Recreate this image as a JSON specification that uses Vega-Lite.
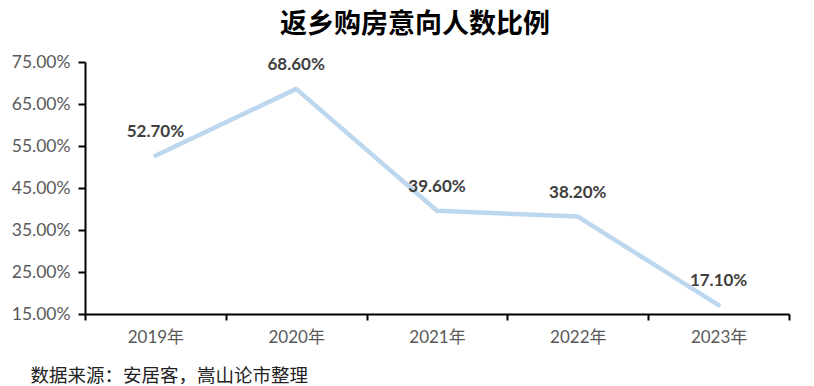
{
  "$schema": "https://vega.github.io/schema/vega-lite/v6.json",
  "width": 704,
  "height": 252,
  "autosize": "none",
  "padding": {"left": 85, "top": 62, "right": 25, "bottom": 72},
  "background": "white",
  "title": {
    "text": "返乡购房意向人数比例",
    "font": "Noto Sans CJK SC",
    "fontSize": 27,
    "fontWeight": "bold",
    "color": "#000000",
    "anchor": "middle",
    "dx": -22,
    "offset": 14
  },
  "config": {"view": {"stroke": null}},
  "data": {
    "values": [
      {"year": "2019年", "value": 0.527},
      {"year": "2020年", "value": 0.686},
      {"year": "2021年", "value": 0.396},
      {"year": "2022年", "value": 0.382},
      {"year": "2023年", "value": 0.171}
    ]
  },
  "encoding": {
    "x": {
      "field": "year",
      "type": "ordinal",
      "sort": null,
      "scale": {"paddingInner": 0, "paddingOuter": 0},
      "axis": {
        "title": "数据来源：安居客，嵩山论市整理",
        "titleFont": "Noto Sans CJK SC",
        "titleFontSize": 18.5,
        "titleFontWeight": "normal",
        "titleColor": "#222222",
        "titleAnchor": "start",
        "titleAlign": "left",
        "titleBaseline": "middle",
        "titleX": -55,
        "titleY": 61,
        "labelAngle": 0,
        "labelFont": "Lato, Noto Sans CJK SC",
        "labelFontSize": 17,
        "labelColor": "#595959",
        "labelPadding": 9,
        "tickBand": "extent",
        "tickColor": "#000000",
        "tickSize": 6,
        "tickWidth": 2,
        "domainColor": "#000000",
        "domainWidth": 2
      }
    },
    "y": {
      "field": "value",
      "type": "quantitative",
      "scale": {"domain": [0.15, 0.75], "nice": false, "zero": false},
      "axis": {
        "title": null,
        "values": [0.15, 0.25, 0.35, 0.45, 0.55, 0.65, 0.75],
        "format": ".2%",
        "grid": false,
        "labelFont": "Lato",
        "labelFontSize": 17.5,
        "labelColor": "#595959",
        "labelPadding": 8,
        "tickColor": "#000000",
        "tickSize": 7,
        "tickWidth": 2,
        "domainColor": "#000000",
        "domainWidth": 2
      }
    }
  },
  "layer": [
    {
      "mark": {"type": "line", "color": "#BDD7EE", "strokeWidth": 4.5, "strokeCap": "round", "strokeJoin": "round"}
    },
    {
      "mark": {"type": "text", "font": "Lato", "fontSize": 17, "fontWeight": "bold", "color": "#404040", "dy": -24},
      "encoding": {"text": {"field": "value", "type": "quantitative", "format": ".2%"}}
    }
  ]
}
